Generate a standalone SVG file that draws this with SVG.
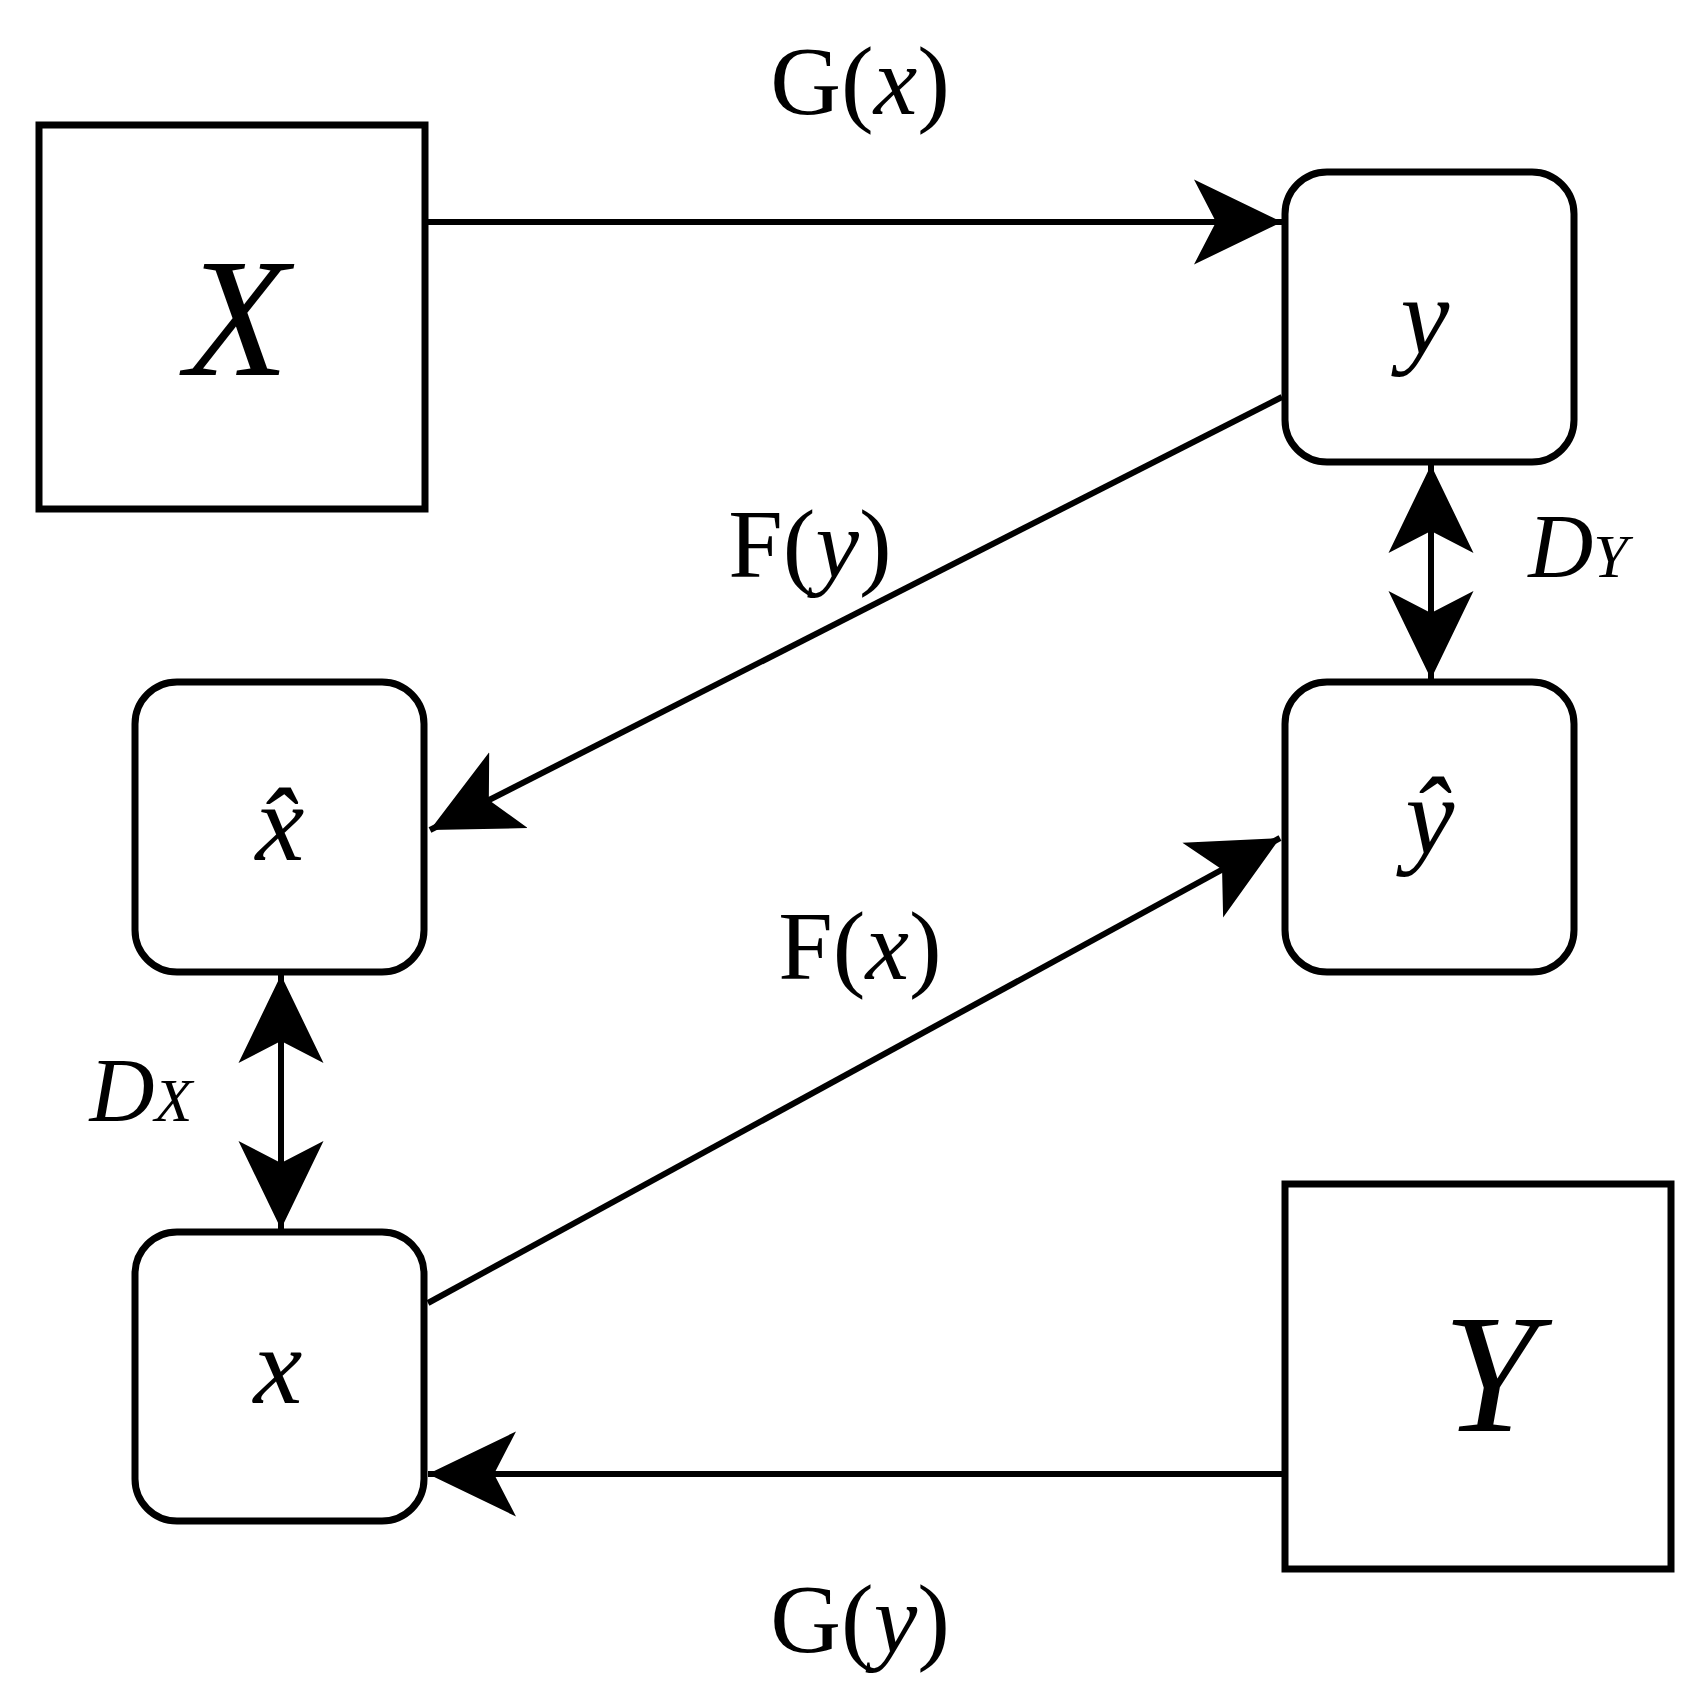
<svg xmlns="http://www.w3.org/2000/svg" width="1697" height="1688" viewBox="0 0 1697 1688">
<style>
.b{fill:#fff;stroke:#000;stroke-width:7}
.c{fill:none;stroke:#000;stroke-width:6}
.t{font-family:'Liberation Serif','Times New Roman',Times,serif;fill:#000}
.i{font-style:italic}
</style>
<defs>
<marker id="a" markerUnits="userSpaceOnUse" markerWidth="95" markerHeight="95" viewBox="0 0 95 95" refX="88" refY="47.5" orient="auto-start-reverse">
<path d="M0,5 L88,47.5 L0,90 L22,47.5 Z" fill="#000"/>
</marker>
</defs>
<rect width="1697" height="1688" fill="#fff"/>
<g id="connectors">
<line class="c" x1="425" y1="222" x2="1282" y2="222" marker-end="url(#a)"/>
<line class="c" x1="1282" y1="397" x2="430" y2="830" marker-end="url(#a)"/>
<line class="c" x1="428" y1="1303" x2="1280" y2="838" marker-end="url(#a)"/>
<line class="c" x1="1285" y1="1474" x2="428" y2="1474" marker-end="url(#a)"/>
<line class="c" x1="1431" y1="465" x2="1431" y2="679" marker-start="url(#a)" marker-end="url(#a)"/>
<line class="c" x1="281" y1="975" x2="281" y2="1229" marker-start="url(#a)" marker-end="url(#a)"/>
</g>
<g id="X"><rect class="b" x="39" y="125" width="386" height="384"/><text class="t i" font-family="Liberation Serif, serif" x="237" y="375" font-size="170" text-anchor="middle">X</text></g>
<g id="y"><rect class="b" x="1285" y="172" width="289" height="290" rx="42"/><text class="t i" font-family="Liberation Serif, serif" x="1425" y="354" font-size="110" text-anchor="middle">y</text></g>
<g id="xhat"><rect class="b" x="135" y="682" width="289" height="290" rx="42"/><text class="t i" font-family="Liberation Serif, serif" x="280" y="860" font-size="110" text-anchor="middle">x̂</text></g>
<g id="yhat"><rect class="b" x="1285" y="682" width="289" height="290" rx="42"/><text class="t i" font-family="Liberation Serif, serif" x="1430" y="854" font-size="110" text-anchor="middle">ŷ</text></g>
<g id="x"><rect class="b" x="135" y="1232" width="289" height="289" rx="42"/><text class="t i" font-family="Liberation Serif, serif" x="278" y="1403" font-size="110" text-anchor="middle">x</text></g>
<g id="Y"><rect class="b" x="1285" y="1184" width="386" height="385"/><text class="t i" font-family="Liberation Serif, serif" x="1490" y="1431" font-size="170" text-anchor="middle">Y</text></g>
<g id="labels" font-family="Liberation Serif, serif">
<text class="t" x="860" y="114" font-size="98" text-anchor="middle">G(<tspan class="i">x</tspan>)</text>
<text class="t" x="810" y="577" font-size="98" text-anchor="middle">F(<tspan class="i">y</tspan>)</text>
<text class="t" x="860" y="979" font-size="98" text-anchor="middle">F(<tspan class="i">x</tspan>)</text>
<text class="t" x="860" y="1652" font-size="98" text-anchor="middle">G(<tspan class="i">y</tspan>)</text>
<text class="t i" x="1578" y="577" font-size="90" text-anchor="middle">D<tspan font-size="62">Y</tspan></text>
<text class="t i" x="141" y="1121" font-size="90" text-anchor="middle">D<tspan font-size="62">X</tspan></text>
</g>
</svg>
